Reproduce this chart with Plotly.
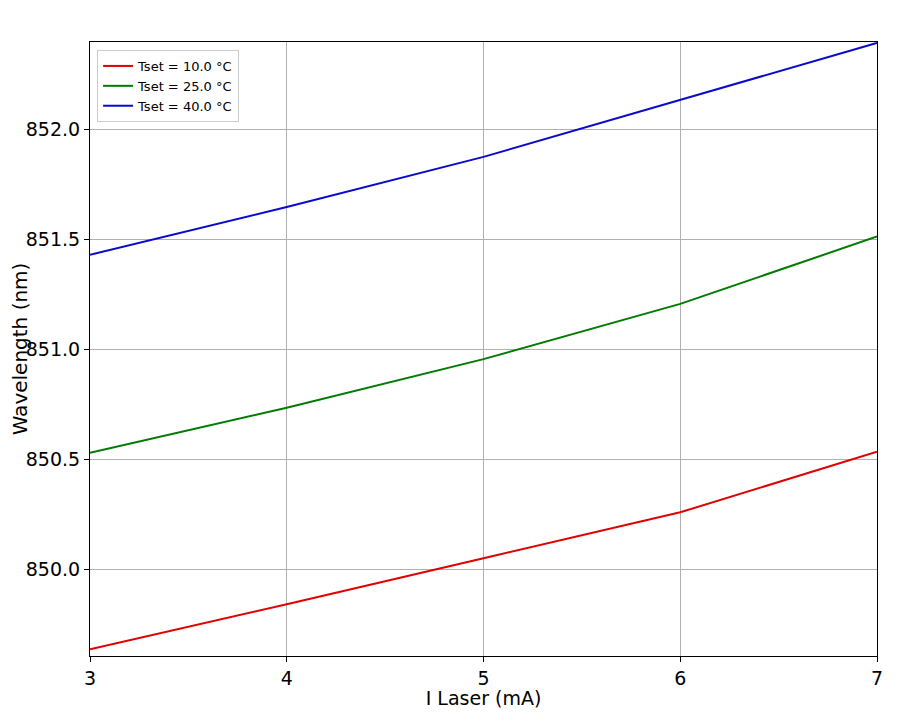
import plotly.graph_objects as go

current_ma = [3, 4, 5, 6, 7]
wl_10 = [849.636, 849.841, 850.050, 850.259, 850.534]
wl_25 = [850.529, 850.734, 850.955, 851.206, 851.512]
wl_40 = [851.429, 851.646, 851.874, 852.134, 852.392]
labels = ["Tset = 10.0 °C", "Tset = 25.0 °C", "Tset = 40.0 °C"]
colors = ["#e00000", "#007a00", "#0a0acc"]
y_ticks = [850.0, 850.5, 851.0, 851.5, 852.0]
x_ticks = [3, 4, 5, 6, 7]

fig = go.Figure()
for ys, name, c in zip([wl_10, wl_25, wl_40], labels, colors):
    fig.add_trace(go.Scatter(x=current_ma, y=ys, mode="lines", name=name,
                             line=dict(color=c, width=2)))

font_family = "DejaVu Sans"
fig.update_layout(
    width=884, height=701,
    margin=dict(l=82, r=15, t=34, b=53, autoexpand=False),
    paper_bgcolor="white", plot_bgcolor="white",
    font=dict(family=font_family, color="black"),
    showlegend=True,
    legend=dict(x=0.009, y=0.987, xanchor="left", yanchor="top",
                bgcolor="rgba(255,255,255,0.8)", bordercolor="#cccccc", borderwidth=1,
                font=dict(size=13, family=font_family), tracegroupgap=0),
)
fig.update_xaxes(
    range=[3, 7], tickvals=x_ticks, ticktext=[str(v) for v in x_ticks],
    showgrid=True, gridcolor="#b0b0b0", gridwidth=1,
    showline=True, linecolor="black", linewidth=1, mirror=True,
    ticks="outside", ticklen=5, tickcolor="black", automargin=False,
    tickfont=dict(size=19), zeroline=False,
    title=dict(text="I Laser (mA)", font=dict(size=19), standoff=0),
)
fig.update_yaxes(
    range=[849.606, 852.396], tickvals=y_ticks, ticktext=[f"{v:.1f}" for v in y_ticks],
    showgrid=True, gridcolor="#b0b0b0", gridwidth=1,
    showline=True, linecolor="black", linewidth=1, mirror=True,
    ticks="outside", ticklen=5, tickcolor="black", automargin=False,
    tickfont=dict(size=19), zeroline=False,
    title=dict(text="Wavelength (nm)", font=dict(size=20), standoff=16),
)
fig.write_html("out.html")
